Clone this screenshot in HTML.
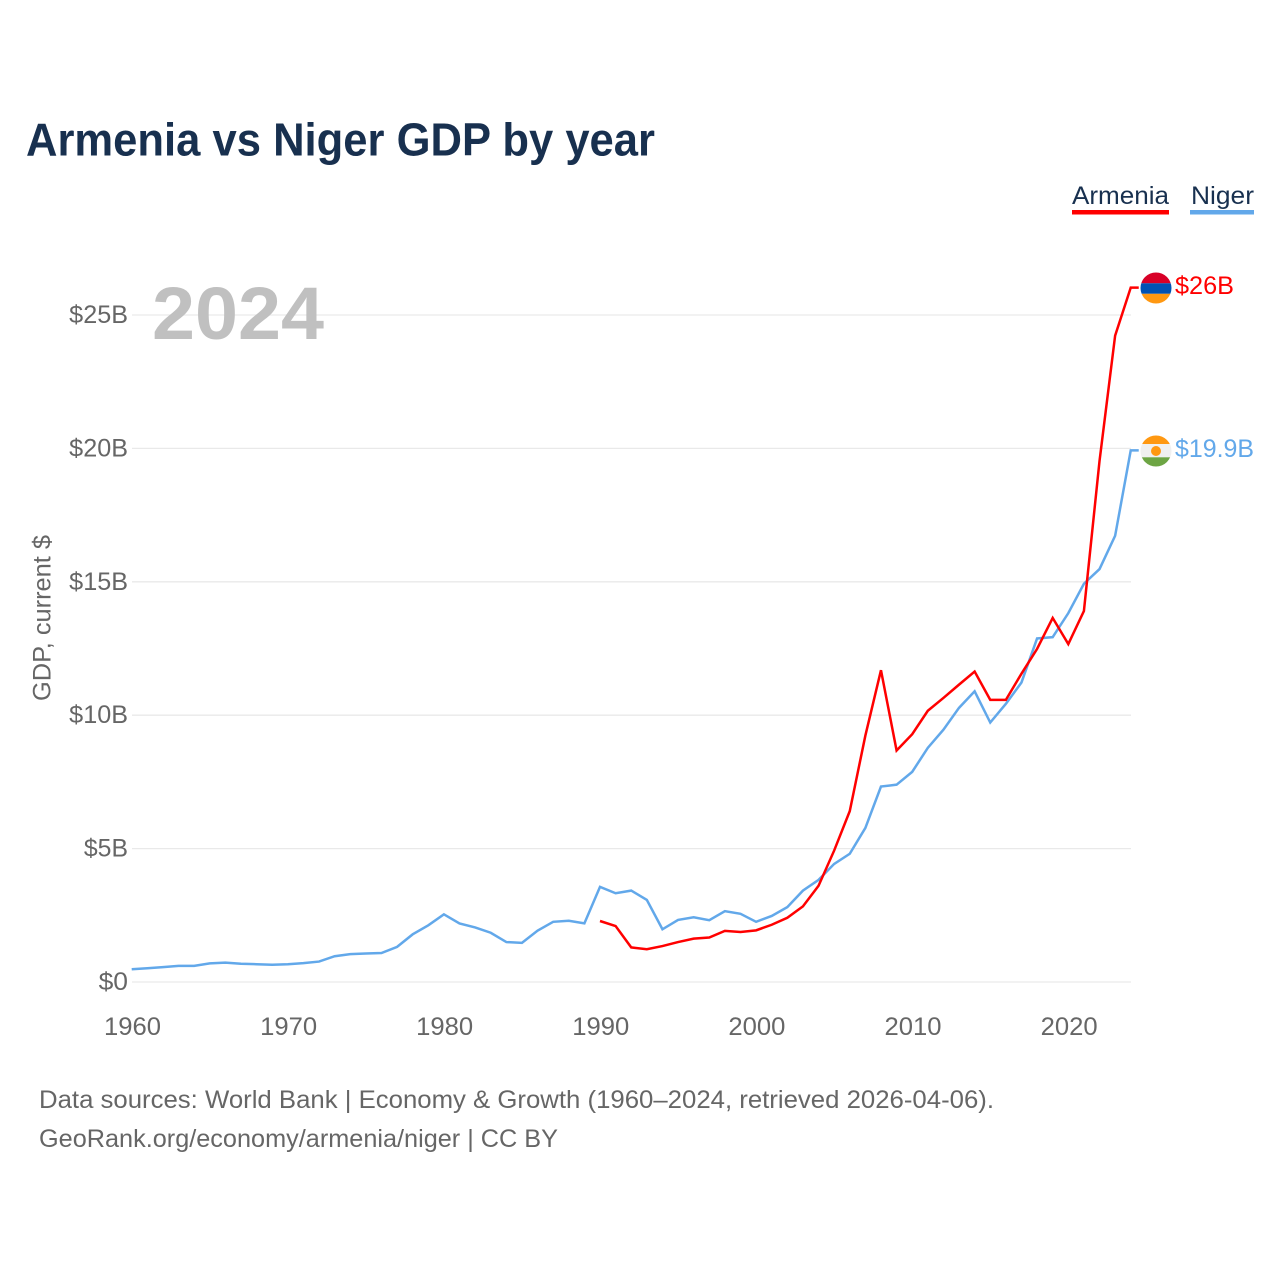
<!DOCTYPE html>
<html lang="en">
<head>
<meta charset="utf-8">
<title>Armenia vs Niger GDP by year</title>
<style>
html,body{margin:0;padding:0;background:#fff;width:1280px;height:1280px;overflow:hidden}
svg{display:block}
text{font-family:"Liberation Sans",sans-serif}
</style>
</head>
<body>
<svg id="chart" width="1280" height="1280" viewBox="0 0 1280 1280" xmlns="http://www.w3.org/2000/svg">
<text x="26" y="155.5" font-size="46" font-weight="700" fill="#18304f" textLength="629" lengthAdjust="spacingAndGlyphs">Armenia vs Niger GDP by year</text>
<g>
<g>
<text x="1072" y="204" font-size="25" fill="#18304f" textLength="97" lengthAdjust="spacingAndGlyphs">Armenia</text>
<rect x="1072" y="210" width="97" height="4.5" fill="#ff0000"/>
</g>
<g>
<text x="1191" y="204" font-size="25" fill="#18304f" textLength="63" lengthAdjust="spacingAndGlyphs">Niger</text>
<rect x="1190" y="210" width="64" height="4.5" fill="#62a8ea"/>
</g>
</g>
<g id="grid"></g>
<text x="152" y="339" font-size="74" font-weight="700" fill="#c0c0c0" textLength="172" lengthAdjust="spacingAndGlyphs">2024</text>
<g id="yticks"></g>
<g id="xticks"></g>
<text transform="translate(50.5,701) rotate(-90)" x="0" y="0" font-size="25" fill="#666666" textLength="166" lengthAdjust="spacingAndGlyphs">GDP, current $</text>
<g id="series" transform="translate(-0.3,-0.7)"></g>
<g>
<clipPath id="clipA"><circle cx="1156" cy="288" r="15.5"/></clipPath>
<g clip-path="url(#clipA)">
<rect x="1140" y="272" width="32" height="11.3" fill="#d80027"/>
<rect x="1140" y="283.3" width="32" height="10.5" fill="#0052b4"/>
<rect x="1140" y="293.8" width="32" height="11" fill="#ff9811"/>
</g>
</g>
<g>
<clipPath id="clipN"><circle cx="1156" cy="451" r="15.5"/></clipPath>
<g clip-path="url(#clipN)">
<rect x="1140" y="435" width="32" height="9" fill="#ff9811"/>
<rect x="1140" y="444" width="32" height="13.3" fill="#f0f0f0"/>
<rect x="1140" y="457.3" width="32" height="10" fill="#6da544"/>
<circle cx="1156" cy="451" r="5" fill="#ff9811"/>
</g>
</g>
<text id="valA" x="1175" y="294" font-size="25" fill="#ff0000" textLength="59" lengthAdjust="spacingAndGlyphs"></text>
<text id="valN" x="1175" y="457" font-size="25" fill="#62a8ea" textLength="79" lengthAdjust="spacingAndGlyphs"></text>
<text x="39" y="1108" font-size="25" fill="#666666" textLength="955" lengthAdjust="spacingAndGlyphs">Data sources: World Bank | Economy &amp; Growth (1960–2024, retrieved 2026-04-06).</text>
<text x="39" y="1147" font-size="25" fill="#666666" textLength="519" lengthAdjust="spacingAndGlyphs">GeoRank.org/economy/armenia/niger | CC BY</text>
</svg>
<script>
const nigerYears = [1960,1961,1962,1963,1964,1965,1966,1967,1968,1969,1970,1971,1972,1973,1974,1975,1976,1977,1978,1979,1980,1981,1982,1983,1984,1985,1986,1987,1988,1989,1990,1991,1992,1993,1994,1995,1996,1997,1998,1999,2000,2001,2002,2003,2004,2005,2006,2007,2008,2009,2010,2011,2012,2013,2014,2015,2016,2017,2018,2019,2020,2021,2022,2023,2024];
const nigerValues = [0.45,0.49,0.53,0.58,0.58,0.67,0.70,0.66,0.64,0.62,0.64,0.68,0.74,0.94,1.02,1.04,1.06,1.29,1.76,2.10,2.51,2.17,2.02,1.82,1.47,1.44,1.90,2.23,2.27,2.17,3.54,3.30,3.40,3.05,1.95,2.30,2.40,2.29,2.63,2.53,2.23,2.45,2.78,3.40,3.80,4.40,4.78,5.75,7.30,7.37,7.85,8.75,9.43,10.25,10.87,9.70,10.40,11.20,12.85,12.90,13.80,14.90,15.45,16.70,19.90];
const armeniaYears = [1990,1991,1992,1993,1994,1995,1996,1997,1998,1999,2000,2001,2002,2003,2004,2005,2006,2007,2008,2009,2010,2011,2012,2013,2014,2015,2016,2017,2018,2019,2020,2021,2022,2023,2024];
const armeniaValues = [2.26,2.07,1.27,1.20,1.32,1.47,1.60,1.64,1.89,1.85,1.91,2.12,2.38,2.81,3.58,4.90,6.38,9.21,11.66,8.65,9.26,10.14,10.62,11.12,11.61,10.55,10.55,11.53,12.46,13.62,12.64,13.88,19.50,24.20,26.00];
const yTickValues = [0,5,10,15,20,25];
const yTickLabels = ["$0","$5B","$10B","$15B","$20B","$25B"];
const xTickValues = [1960,1970,1980,1990,2000,2010,2020];
const xTickLabels = ["1960","1970","1980","1990","2000","2010","2020"];

const NS = "http://www.w3.org/2000/svg";
const xScale = function (year) { return 132 + (year - 1960) * 15.61; };
const yScale = function (v) { return 982 - v * 26.68; };
const fmtEnd = function (v) { return "$" + (Math.round(v * 10) / 10) + "B"; };

function mk(parent, tag, attrs) {
  const el = document.createElementNS(NS, tag);
  Object.keys(attrs).forEach(function (k) { el.setAttribute(k, attrs[k]); });
  parent.appendChild(el);
  return el;
}

const grid = document.getElementById("grid");
const yticks = document.getElementById("yticks");
yTickValues.forEach(function (v, i) {
  const line = mk(grid, "line", { x1: 132, x2: 1131, y1: yScale(v), y2: yScale(v), stroke: "#e9e9e9", "stroke-width": 1.3 });
  
  
  const t = mk(yticks, "text", { x: 128, y: yScale(v) + 8, "text-anchor": "end", "font-size": 25, fill: "#666666", textLength: yTickLabels[i].length * 14.7, lengthAdjust: "spacingAndGlyphs" });
  
  
  t.textContent = yTickLabels[i];
});

const xticks = document.getElementById("xticks");
xTickValues.forEach(function (v, i) {
  const t = mk(xticks, "text", { x: xScale(v) + 0.5, y: 1035, "text-anchor": "middle", "font-size": 25, fill: "#666666", textLength: 57, lengthAdjust: "spacingAndGlyphs" });
  
  
  t.textContent = xTickLabels[i];
});

const seriesGroup = document.getElementById("series");
function drawSeries(years, values, color) {
  const pts = years.map(function (y, i) { return xScale(y).toFixed(2) + "," + yScale(values[i]).toFixed(2); });
  const lastY = yScale(values[values.length - 1]).toFixed(2);
  pts.push((xScale(years[years.length - 1]) + 8).toFixed(2) + "," + lastY);
  return mk(seriesGroup, "polyline", { points: pts.join(" "), fill: "none", stroke: color, "stroke-width": 2.5, "stroke-linejoin": "miter" });
}
const nigerLine = drawSeries(nigerYears, nigerValues, "#62a8ea");


const armeniaLine = drawSeries(armeniaYears, armeniaValues, "#ff0000");



document.getElementById("valA").textContent = fmtEnd(armeniaValues[armeniaValues.length - 1]);
document.getElementById("valN").textContent = fmtEnd(nigerValues[nigerValues.length - 1]);
</script>
</body>
</html>
